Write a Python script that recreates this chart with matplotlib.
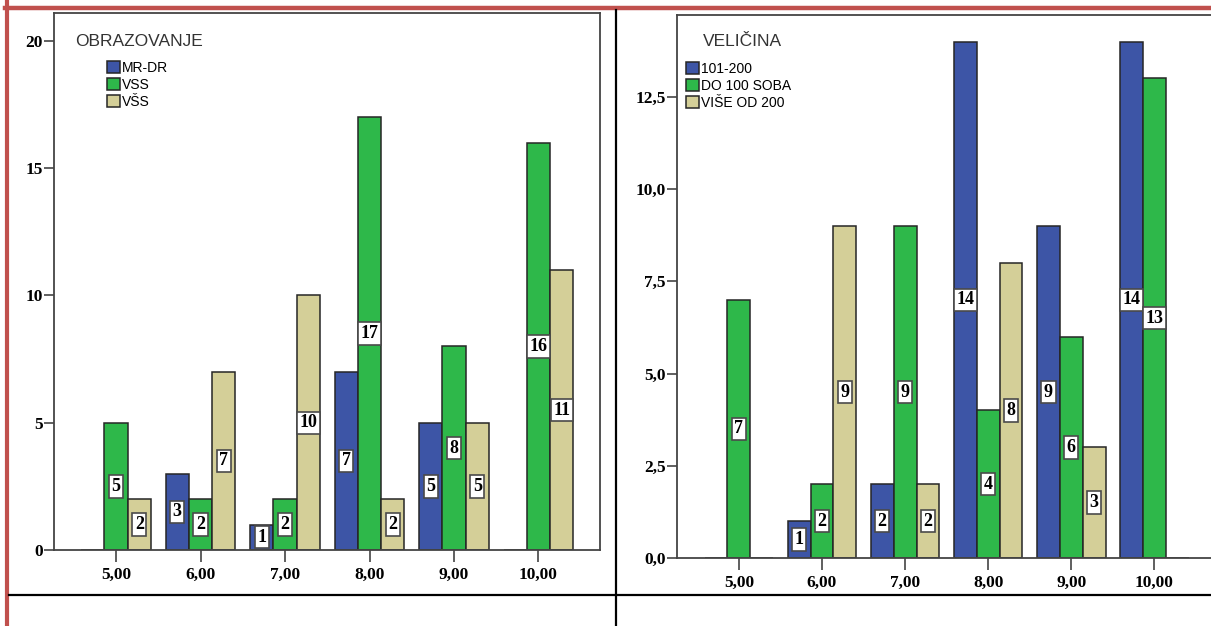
import matplotlib.pyplot as plt
from matplotlib.lines import Line2D
import numpy as np

W, H = 1211, 626

categories = ['5,00', '6,00', '7,00', '8,00', '9,00', '10,00']

edu_title = 'OBRAZOVANJE'
edu_names = ['MR-DR', 'VSS', 'VŠS']
edu_mrdr = [0, 3, 1, 7, 5, 0]
edu_vss = [5, 2, 2, 17, 8, 16]
edu_vss_b = [2, 7, 10, 2, 5, 11]

size_title = 'VELIČINA'
size_names = ['101-200', 'DO 100 SOBA', 'VIŠE OD 200']
size_101 = [0, 1, 2, 14, 9, 14]
size_do100 = [7, 2, 9, 4, 6, 13]
size_vise = [0, 9, 2, 8, 3, 0]

yticks_left = [0, 5, 10, 15, 20]
ylabels_left = ['0', '5', '10', '15', '20']
yticks_right = [0, 2.5, 5, 7.5, 10, 12.5]
ylabels_right = ['0,0', '2,5', '5,0', '7,5', '10,0', '12,5']

colors = ['#3d55a6', '#2eb84a', '#d4cf98']
frame = '#444444'
serif = 'Liberation Serif'
sans = 'Liberation Sans'


def px_axes(fig, l, t, r, b):
    return fig.add_axes([l / W, 1 - b / H, (r - l) / W, (b - t) / H])


def fig_line(fig, x0, y0, x1, y1, color, lw):
    fig.add_artist(Line2D([x0 / W, x1 / W], [1 - y0 / H, 1 - y1 / H],
                          transform=fig.transFigure, color=color, lw=lw))


def draw(fig, ax, series, names, title, yticks, ylabels, ylim, xlim, leg_xy, title_xy):
    x = np.arange(len(categories))
    w = 0.275
    for i, (vals, name, c) in enumerate(zip(series, names, colors)):
        pos = x + (i - 1) * w
        ax.bar(pos, vals, w, color=c, edgecolor='#262626', linewidth=1.1, label=name, zorder=2)
        for p, v in zip(pos, vals):
            if v > 0:
                ax.text(p, v / 2, str(v), ha='center', va='center', fontsize=13,
                        fontweight='bold', family=serif, zorder=4,
                        bbox=dict(boxstyle='square,pad=0.15', fc='white', ec='#4a4a4a', lw=1.2))
    ax.set_xlim(xlim)
    ax.set_ylim(ylim)
    ax.set_xticks(x, categories, fontsize=12.5, fontweight='bold', family=serif)
    ax.set_yticks(yticks, ylabels, fontsize=12.5, fontweight='bold', family=serif)
    ax.tick_params(axis='x', direction='out', length=8.5, width=1.2, color=frame, pad=3.5)
    ax.tick_params(axis='y', direction='out', length=7.5, width=1.2, color=frame, pad=0.5)
    for s in ax.spines.values():
        s.set_color(frame)
        s.set_linewidth(1.3)
    ax.legend(loc='upper left', bbox_to_anchor=(leg_xy[0] / W, 1 - leg_xy[1] / H),
              bbox_transform=fig.transFigure, frameon=False,
              prop={'family': sans, 'size': 10}, handlelength=0.9, handleheight=0.9,
              handletextpad=0.2, labelspacing=0.2, borderpad=0, borderaxespad=0)
    fig.text(title_xy[0] / W, 1 - title_xy[1] / H, title, ha='left', va='center',
             fontsize=12.5, family=sans, color='#333333')


fig = plt.figure(figsize=(W / 100, H / 100), dpi=100)

ax1 = px_axes(fig, 54, 13, 600, 550)
draw(fig, ax1, [edu_mrdr, edu_vss, edu_vss_b], edu_names, edu_title,
     yticks_left, ylabels_left, (0, 21.1), (-0.734, 5.728), (107, 61), (75, 42))

ax2 = px_axes(fig, 677, 15, 1225, 558)
draw(fig, ax2, [size_101, size_do100, size_vise], size_names, size_title,
     yticks_right, ylabels_right, (0, 14.72), (-0.745, 5.85), (686, 62), (703, 42))

# table borders of the document page
fig_line(fig, 7, 0, 7, H, '#c0504d', 3)
fig_line(fig, 5, 7.5, W, 7.5, '#c0504d', 3.2)
fig_line(fig, 616, 10, 616, H, 'black', 1.6)
fig_line(fig, 9, 595, W, 595, 'black', 1.6)

fig.savefig('out.png', dpi=100)
